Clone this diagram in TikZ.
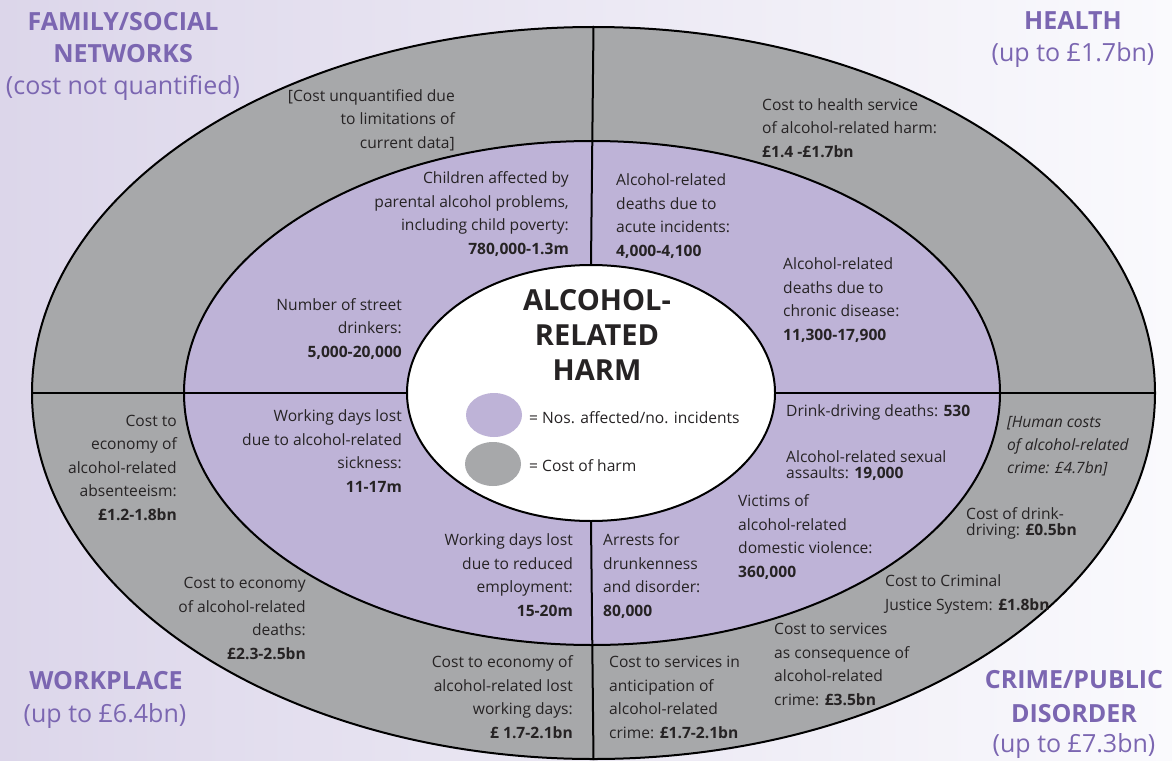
\documentclass[tikz,border=0pt]{standalone}
\usepackage{fontspec}
\setmainfont{Open Sans}
\usetikzlibrary{shapes.geometric}
\definecolor{bgl}{HTML}{DCD6EA}
\definecolor{bgr}{HTML}{FAFAFD}
\definecolor{ringgray}{HTML}{A7A8AA}
\definecolor{midpurple}{HTML}{BEB3D7}
\definecolor{titlepurple}{HTML}{7B66B1}
\definecolor{txt}{HTML}{262324}
\begin{document}
\begin{tikzpicture}[x=1pt,y=-1pt,
  body/.style={font=\fontsize{15.6}{23.4}\selectfont, text=txt, inner sep=0pt},
  rtxt/.style={body, align=right, anchor=base east},
  ltxt/.style={body, align=left, anchor=base west},
  head/.style={font=\fontsize{25}{32}\selectfont\bfseries, text=titlepurple, inner sep=0pt, align=center, anchor=base},
  sub/.style={font=\fontsize{25}{31}\selectfont, text=titlepurple, inner sep=0pt, align=center, anchor=base},
  ring/.style={ellipse, draw=black, line width=2pt, inner sep=0pt},
  divider/.style={draw=black, line width=2pt},
  legdot/.style={ellipse, inner sep=0pt, minimum width=56pt, minimum height=44pt}]
\fill[left color=bgl, right color=bgr] (0,0) rectangle (1172,760);
\useasboundingbox (0,0) rectangle (1172,760);
\begin{scope}
\clip (0,0) rectangle (1172,760);
\node[ring, fill=ringgray, minimum width=1123pt, minimum height=732pt] (outer) at (593.5,393) {};
\node[ring, fill=midpurple, minimum width=816pt, minimum height=504pt] (middle) at (592,393) {};
\node[ring, fill=white, minimum width=368pt, minimum height=256pt] (inner) at (591,393) {};
\draw[divider] (outer.north) -- (inner.north);
\draw[divider] (inner.south) -- (outer.south);
\draw[divider] (outer.west) -- (inner.west);
\draw[divider] (inner.east) -- (outer.east);
\end{scope}
% legend
\node[legdot, fill=midpurple] (legP) at (494,415) {};
\node[legdot, fill=ringgray] (legG) at (493,464) {};
\node[ltxt] (legPt) at (529,423) {= Nos. affected/no. incidents};
\node[ltxt] (legGt) at (529,471) {= Cost of harm};
% title
\node[font=\fontsize{29}{35}\selectfont\bfseries, text=txt, inner sep=0pt, align=center, anchor=base] (title) at (597,380) {ALCOHOL-\\RELATED\\HARM};
% headers
\node[head] (h1) at (123,63) {FAMILY/SOCIAL\\NETWORKS};
\node[sub] (h1s) at (123,94) {(cost not quantified)};
\node[head] (h2) at (1073,30) {HEALTH};
\node[sub] (h2s) at (1073,62) {(up to £1.7bn)};
\node[head] (h3) at (106,689) {WORKPLACE};
\node[sub] (h3s) at (105,722) {(up to £6.4bn)};
\node[head, font=\fontsize{25}{34}\selectfont\bfseries] (h4) at (1074,722) {CRIME/PUBLIC\\DISORDER};
\node[sub] (h4s) at (1074,752) {(up to £7.3bn)};
% texts (anchored at the baseline of the last line)
\node[rtxt] (t1) at (455,148) {[Cost unquantified due\\to limitations of\\current data]};
\node[rtxt] (t2) at (569,254) {Children affected by\\parental alcohol problems,\\including child poverty:\\\textbf{780,000-1.3m}};
\node[ltxt] (t3) at (762,157) {Cost to health service\\of alcohol-related harm:\\\textbf{£1.4 -£1.7bn}};
\node[ltxt] (t4) at (616,256) {Alcohol-related\\deaths due to\\acute incidents:\\\textbf{4,000-4,100}};
\node[ltxt] (t5) at (783,340) {Alcohol-related\\deaths due to\\chronic disease:\\\textbf{11,300-17,900}};
\node[rtxt] (t6) at (402,357) {Number of street\\drinkers:\\\textbf{5,000-20,000}};
\node[rtxt] (t7) at (402,492) {Working days lost\\due to alcohol-related\\sickness:\\\textbf{11-17m}};
\node[ltxt] (t8) at (786,416) {Drink-driving deaths: \textbf{530}};
\node[ltxt] (t9) at (786,478) {Alcohol-related sexual\\[-8pt]assaults: \textbf{19,000}};
\node[ltxt] (t10) at (738,577) {Victims of\\alcohol-related\\domestic violence:\\\textbf{360,000}};
\node[ltxt, font=\fontsize{15.6}{23}\selectfont\itshape] (t11) at (1007,473) {[Human costs\\of alcohol-related\\crime: £4.7bn]};
\node[ltxt] (t12) at (966,535) {Cost of drink-\\[-8pt]driving: \textbf{£0.5bn}};
\node[ltxt] (t13) at (885,610) {Cost to Criminal\\Justice System: \textbf{£1.8bn}};
\node[ltxt] (t14) at (774,705) {Cost to services\\as consequence of\\alcohol-related\\crime: \textbf{£3.5bn}};
\node[rtxt] (t15) at (177,520) {Cost to\\economy of\\alcohol-related\\absenteeism:\\\textbf{£1.2-1.8bn}};
\node[rtxt] (t16) at (306,659) {Cost to economy\\of alcohol-related\\deaths:\\\textbf{£2.3-2.5bn}};
\node[rtxt] (t17) at (573,616) {Working days lost\\due to reduced\\employment:\\\textbf{15-20m}};
\node[ltxt] (t18) at (603,616) {Arrests for\\drunkenness\\and disorder:\\\textbf{80,000}};
\node[rtxt] (t19) at (573,738) {Cost to economy of\\alcohol-related lost\\working days:\\\textbf{£ 1.7-2.1bn}};
\node[ltxt] (t20) at (609,738) {Cost to services in\\anticipation of\\alcohol-related\\crime: \textbf{£1.7-2.1bn}};
\end{tikzpicture}
\end{document}
